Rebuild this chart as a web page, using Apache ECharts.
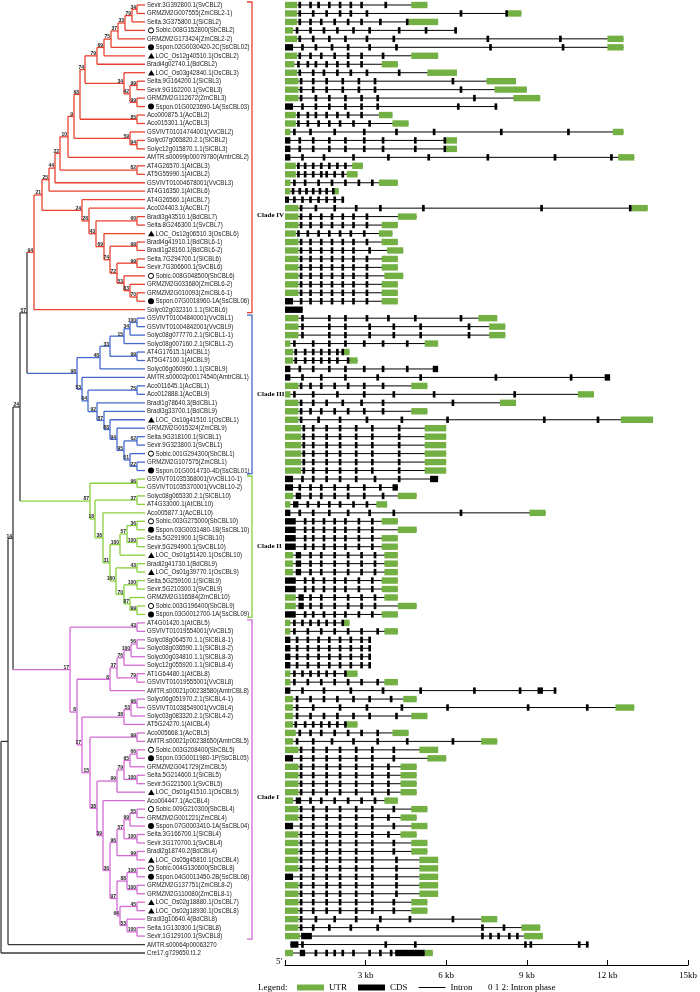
<!DOCTYPE html>
<html><head><meta charset="utf-8">
<script src="https://cdn.jsdelivr.net/npm/echarts@6/dist/echarts.min.js"></script>
<style>html,body{margin:0;padding:0;background:#fff}#c{width:700px;height:992px}</style>
</head><body><div id="c"></div>
<script>
// ---------------- DATA ----------------
const leafNames = [
"Sevir.3G392800.1(SvCBL2)","GRMZM2G007555(ZmCBL2-1)","Seita.3G375800.1(SiCBL2)","Sobic.008G152800(SbCBL2)","GRMZM2G173424(ZmCBL2-2)",
"Sspon.02G0030420-2C(SsCBL02)","LOC_Os12g40510.1(OsCBL2)","Bradi4g02740.1(BdCBL2)","LOC_Os03g42840.1(OsCBL3)","Seita.9G164200.1(SiCBL3)",
"Sevir.9G162200.1(SvCBL3)","GRMZM2G112672(ZmCBL3)","Sspon.01G0023690-1A(SsCBL03)","Aco000875.1(AcCBL2)","Aco015301.1(AcCBL3)",
"GSVIVT01014744001(VvCBL2)","Solyc07g065820.2.1(SlCBL2)","Solyc12g015870.1.1(SlCBL3)","AMTR.s00099p00079780(AmtrCBL2)","AT4G26570.1(AtCBL3)",
"AT5G55990.1(AtCBL2)","GSVIVT01004678001(VvCBL3)","AT4G16350.1(AtCBL6)","AT4G26560.1(AtCBL7)","Aco024403.1(AcCBL7)",
"Bradi3g43510.1(BdCBL7)","Seita.8G246300.1(SvCBL7)","LOC_Os12g06510.3(OsCBL6)","Bradi4g41910.1(BdCBL6-1)","Bradi1g28160.1(BdCBL6-2)",
"Seita.7G294700.1(SiCBL6)","Sevir.7G306600.1(SvCBL6)","Sobic.008G048500(SbCBL6)","GRMZM2G033680(ZmCBL6-2)","GRMZM2G010093(ZmCBL6-1)",
"Sspon.07G0018960-1A(SsCBL06)","Solyc02g032310.1.1(SlCBL6)",
"GSVIVT01004840001(VvCBL1)","GSVIVT01004842001(VvCBL9)","Solyc08g077770.2.1(SlCBL1-1)","Solyc08g007160.2.1(SlCBL1-2)","AT4G17615.1(AtCBL1)",
"AT5G47100.1(AtCBL9)","Solyc06g060960.1.1(SlCBL9)","AMTR.s00002p00174540(AmtrCBL1)","Aco011645.1(AcCBL1)","Aco012888.1(AcCBL9)",
"Bradi1g78640.3(BdCBL1)","Bradi3g33700.1(BdCBL9)","LOC_Os10g41510.1(OsCBL1)","GRMZM2G015324(ZmCBL9)","Seita.9G318100.1(SiCBL1)",
"Sevir.9G323800.1(SvCBL1)","Sobic.001G294300(SbCBL1)","GRMZM2G107575(ZmCBL1)","Sspon.01G0014730-4D(SsCBL01)",
"GSVIVT01035368001(VvCBL10-1)","GSVIVT01035370001(VvCBL10-2)","Solyc08g065330.2.1(SlCBL10)","AT4G33000.1(AtCBL10)","Aco005877.1(AcCBL10)",
"Sobic.003G275000(SbCBL10)","Sspon.03G0031480-1B(SsCBL10)","Seita.5G291900.1(SiCBL10)","Sevir.5G294900.1(SvCBL10)","LOC_Os01g51420.1(OsCBL10)",
"Bradi2g41730.1(BdCBL9)","LOC_Os01g39770.1(OsCBL9)","Seita.5G259100.1(SiCBL9)","Sevir.5G210300.1(SvCBL9)","GRMZM2G116584(ZmCBL10)",
"Sobic.003G196400(SbCBL9)","Sspon.03G0012700-1A(SsCBL09)",
"AT4G01420.1(AtCBL5)","GSVIVT01019554001(VvCBL5)","Solyc08g064570.1.1(SlCBL8-1)","Solyc08g036590.1.1(SlCBL8-2)","Solyc00g034810.1.1(SlCBL8-3)",
"Solyc12g055920.1.1(SlCBL8-4)","AT1G64480.1(AtCBL8)","GSVIVT01019555001(VvCBL8)","AMTR.s00021p00238580(AmtrCBL8)","Solyc06g051970.2.1(SlCBL4-1)",
"GSVIVT01038549001(VvCBL4)","Solyc03g083320.2.1(SlCBL4-2)","AT5G24270.1(AtCBL4)","Aco005668.1(AcCBL5)","AMTR.s00021p00238650(AmtrCBL5)",
"Sobic.003G208400(SbCBL5)","Sspon.03G0011980-1P(SsCBL05)","GRMZM2G041729(ZmCBL5)","Seita.5G214600.1(SiCBL5)","Sevir.5G221500.1(SvCBL5)",
"LOC_Os01g41510.1(OsCBL5)","Aco004447.1(AcCBL4)","Sobic.009G210300(SbCBL4)","GRMZM2G001221(ZmCBL4)","Sspon.07G0003410-1A(SsCBL04)",
"Seita.3G166700.1(SiCBL4)","Sevir.3G170700.1(SvCBL4)","Bradi2g18740.2(BdCBL4)","LOC_Os05g45810.1(OsCBL4)","Sobic.004G130600(SbCBL8)",
"Sspon.04G0013450-2B(SsCBL08)","GRMZM2G137751(ZmCBL8-2)","GRMZM2G110080(ZmCBL8-1)","LOC_Os02g18880.1(OsCBL7)","LOC_Os02g18930.1(OsCBL8)",
"Bradi3g10640.4(BdCBL8)","Seita.1G130300.1(SiCBL8)","Sevir.1G129100.1(SvCBL8)",
"AMTR.s00064p00063270","Cre17.g729650.t1.2"
];
// tree: [nodeDepth, bootstrap, children...]; leaves are 1-based indices into leafNames
const tree =
[1,'',
 [8,'',
  [13,'14',
   [20,'24',
    [27,'57',
     [34,'94',
      [42,'21',
       [49,'25',
        [55,'44',
         [60,'22',
          [68,'10',
           [74,'9',
            [80,'68',
             [85,'74',
              [97,'79',[104,'69',[111,'75',[118,'37',[125,'33',[132,'79',[137,'34',1,2],3],4],5],6],7],8],
              [124,'34',9,[130,'42',[137,'99',10,11],[137,'99',12,13]]]],
             [137,'85',14,15]],
            [130,'59',16,[137,'94',17,18]]],
           19],
          [137,'82',20,21]],
         22],
        23],
       [82,'24',24,[89,'28',25,[96,'43',[137,'60',26,27],[104,'69',28,[110,'74',[137,'99',29,30],[117,'72',[137,'99',31,32],[124,'53',33,[130,'83',34,[137,'70',35,36]]]]]]]]]],
      37],
     [77,'98',
      [100,'48',[110,'33',[124,'15',[130,'34',[137,'100',38,39],40],41],[137,'99',42,43]],44],
      [82,'53',45,[88,'64',[137,'75',46,47],[97,'92',48,[104,'87',49,[110,'88',50,[117,'94',51,[124,'95',[137,'62',52,53],[130,'51',54,[137,'22',55,56]]]]]]]]]]],
    [90,'87',[137,'96',57,58],
     [95,'18',[137,'37',59,60],
      [103,'38',61,
       [110,'31',
        [120,'100',[127,'57',[137,'36',62,63],[137,'100',64,65]],66],
        [116,'100',[137,'43',67,68],[124,'70',[137,'100',69,70],[130,'87',71,[137,'99',72,73]]]]]]]]],
   [70,'17',[137,'43',74,75],
    [77,'8',
     [110,'8',[117,'37',[124,'76',[131,'100',[137,'56',76,77],78],79],[137,'79',80,81]],82],
     [82,'17',
      [124,'38',[131,'53',[137,'96',83,84],85],86],
      [90,'15',[137,'99',87,88],
       [97,'38',
        [117,'99',[124,'79',[130,'95',[137,'66',89,90],91],[137,'100',92,93]],94],
        [103,'39',95,
         [110,'36',
          [117,'96',[124,'57',[130,'99',[137,'55',96,97],98],[137,'100',99,100]],[137,'99',101,102]],
          [117,'97',[127,'88',[137,'100',103,104],[137,'100',105,106]],[120,'64',[137,'45',107,108],[127,'53',109,[137,'100',110,111]]]]]]]]]]]],
  112],
 113];
const cladeNames = ['Clade IV','Clade III','Clade II','Clade I'];
const cladeFirst = [1,38,57,74];
const cladeLast  = [37,56,73,111];
const cladeLabelRow = [25.8,47,64.9,94.6];
const cladeColors = ['#e8412f','#4468cc','#88d03c','#d36ad3'];
// gene structures (kb from 5' end): u = UTR box, c = CDS box
const genes = [
"u0-.45 c.5-.6 c.9-1 c1.2-1.3 c1.6-1.7 c2-2.1 c2.4-2.5 c2.8-2.9 c3.7-3.8 u4.7-5.3",
"u0-.45 c.5-.6 c1-1.1 c1.5-1.6 c2-2.1 c2.4-2.5 c3-3.1 c6.5-6.6 c8.2-8.3 u8.3-8.8",
"u0-.45 c.5-.6 c.9-1 c1.3-1.4 c1.8-1.9 c2.3-2.4 c2.8-2.9 c3.5-3.6 c4.5-4.6 u4.6-5.7",
"u0-.3 c.4-.5 c.9-1 c1.4-1.5 c1.9-2 c2.5-2.6 c3.1-3.2 c4.2-4.3 c5.2-5.3 c6.3-6.4",
"u0-.45 c.5-.6 c1-1.1 c1.6-1.7 c2.2-2.3 c3-3.1 c4-4.1 c7.5-7.6 c10.2-10.3 u12-12.6",
"c0-.3 c.6-.7 c1.1-1.2 c1.7-1.8 c2.3-2.4 c3.1-3.2 c4.1-4.2 c7.6-7.7 c10.3-10.4 u12-12.6",
"u0-.45 c.5-.6 c.9-1 c1.3-1.4 c1.8-1.9 c2.3-2.4 c2.8-2.9 c3.6-3.7 u4.7-5.7",
"u0-.35 c.45-.55 c.8-.9 c1.1-1.2 c1.5-1.6 c1.9-2 c2.3-2.4 c2.8-2.9 u3.6-4.2",
"u0-.45 c.5-.6 c1-1.1 c1.4-1.5 c1.9-2 c2.4-2.5 c3-3.1 c4.2-4.3 u5.3-6.4",
"u0-.5 c.55-.65 c1-1.1 c1.5-1.6 c2.1-2.2 c2.7-2.8 c3.3-3.4 c6.2-6.3 u7.5-8.6",
"u0-.5 c.55-.65 c1-1.1 c1.5-1.6 c2.1-2.2 c2.7-2.8 c3.3-3.4 c6.5-6.6 u7.8-9",
"u0-.5 c.55-.65 c1.1-1.2 c1.6-1.7 c2.2-2.3 c2.8-2.9 c3.4-3.5 c7-7.1 u8.5-9.5",
"c0-.3 c.6-.7 c1.1-1.2 c1.6-1.7 c2.2-2.3 c2.8-2.9 c3.4-3.5 c6.4-6.5 c7.8-7.9",
"u0-.4 c.45-.55 c.8-.9 c1.1-1.2 c1.5-1.6 c1.9-2 c2.3-2.4 c2.8-2.9 u3.5-4",
"u0-.4 c.45-.55 c.8-.9 c1.2-1.3 c1.6-1.7 c2-2.1 c2.5-2.6 c3.1-3.2 u4-4.6",
"u0-.2 c.3-.4 c.9-1 c1.8-1.9 c2.9-3 c4.1-4.2 c5.5-5.6 c8-8.1 c10.5-10.6 u12.2-12.6",
"c0-.2 c.5-.6 c1-1.1 c1.6-1.7 c2.2-2.3 c2.9-3 c3.6-3.7 c4.8-4.9 c5.9-6 u6-6.4",
"c0-.2 c.5-.6 c1-1.1 c1.6-1.7 c2.2-2.3 c2.9-3 c3.6-3.7 c4.8-4.9 c5.9-6 u6-6.4",
"c0-.2 c.6-.7 c1.4-1.5 c2.5-2.6 c3.8-3.9 c5.3-5.4 c7.5-7.6 c10-10.1 c12.1-12.2 u12.4-13",
"u0-.4 c.45-.55 c.7-.8 c1-1.1 c1.3-1.4 c1.6-1.7 c1.9-2 c2.2-2.3 u2.5-2.9",
"u0-.4 c.45-.55 c.7-.8 c1-1.1 c1.3-1.4 c1.5-1.6 c1.8-1.9 c2.1-2.2 u2.3-2.7",
"u0-.2 c.3-.4 c.7-.8 c1.2-1.3 c1.7-1.8 c2.2-2.3 c2.7-2.8 c3.2-3.3 u3.5-4.2",
"u0-.2 c.25-.35 c.5-.6 c.75-.85 c1-1.1 c1.25-1.35 c1.5-1.6 c1.75-1.85 u1.85-2",
"c0-.15 c.3-.4 c.6-.7 c.9-1 c1.2-1.3 c1.5-1.6 c1.8-1.9 c2.1-2.2",
"u0-.5 c.55-.65 c1.1-1.2 c1.8-1.9 c2.6-2.7 c3.5-3.6 c5.1-5.2 c9.5-9.6 c12.8-12.9 u12.9-13.5",
"u0-.5 c.55-.65 c.9-1 c1.3-1.4 c1.7-1.8 c2.1-2.2 c2.5-2.6 c3-3.1 u4.2-4.9",
"u0-.5 c.55-.65 c.9-1 c1.3-1.4 c1.7-1.8 c2.1-2.2 c2.5-2.6 c3-3.1 u3.6-4.2",
"u0-.4 c.45-.55 c.8-.9 c1.2-1.3 c1.6-1.7 c2-2.1 c2.4-2.5 c2.9-3 u3.5-4",
"u0-.5 c.55-.65 c.9-1 c1.3-1.4 c1.7-1.8 c2.1-2.2 c2.5-2.6 c3-3.1 u3.6-4.2",
"u0-.5 c.55-.65 c.9-1 c1.3-1.4 c1.7-1.8 c2.1-2.2 c2.5-2.6 c3.1-3.2 u3.8-4.4",
"u0-.5 c.55-.65 c.9-1 c1.3-1.4 c1.7-1.8 c2.1-2.2 c2.5-2.6 c3-3.1 u3.6-4.2",
"u0-.5 c.55-.65 c.9-1 c1.3-1.4 c1.7-1.8 c2.1-2.2 c2.5-2.6 c3-3.1 u3.6-4.2",
"u0-.5 c.55-.65 c.9-1 c1.3-1.4 c1.7-1.8 c2.1-2.2 c2.5-2.6 c3-3.1 u3.7-4.4",
"u0-.5 c.55-.65 c.9-1 c1.3-1.4 c1.7-1.8 c2.1-2.2 c2.5-2.6 c3-3.1 u3.6-4.2",
"u0-.5 c.55-.65 c.9-1 c1.3-1.4 c1.7-1.8 c2.1-2.2 c2.5-2.6 c3-3.1 u3.6-4.2",
"c0-.3 c.55-.65 c.9-1 c1.3-1.4 c1.7-1.8 c2.1-2.2 c2.5-2.6 c3-3.1 u3.6-4.2",
"c0-.66",
"u0-.5 c.6-.7 c1.6-1.7 c2.2-2.3 c3-3.1 c3.8-3.9 c4.8-4.9 c6.5-6.6 u7.2-7.9",
"u0-.5 c.6-.7 c1.6-1.7 c2.2-2.3 c3.1-3.2 c4-4.1 c5-5.1 c6.8-6.9 u7.6-8.2",
"u0-.5 c.6-.7 c1.6-1.7 c2.2-2.3 c3.1-3.2 c4-4.1 c5-5.1 c6.8-6.9 u7.6-8.2",
"u0-.2 c.3-.4 c1-1.1 c1.6-1.7 c2.2-2.3 c2.9-3 c3.6-3.7 c4.5-4.6 u5.2-5.7",
"u0-.3 c.35-.45 c.7-.8 c1-1.1 c1.3-1.4 c1.6-1.7 c1.9-2 c2.1-2.2 u2.2-2.4",
"u0-.3 c.35-.45 c.7-.8 c1-1.1 c1.3-1.4 c1.6-1.7 c1.9-2 c2.3-2.4 u2.4-2.7",
"c0-.2 c.5-.6 c1-1.1 c1.6-1.7 c2.2-2.3 c2.9-3 c3.6-3.7 c4.5-4.6 c5.5-5.7",
"c0-.2 c.6-.7 c1.3-1.4 c2.2-2.3 c3.4-3.5 c5-5.1 c7.8-7.9 c10.6-10.7 c11.9-12.1",
"u0-.5 c.55-.65 c.9-1 c1.3-1.4 c1.8-1.9 c2.3-2.4 c2.9-3 c3.6-3.7 u4.7-5.3",
"u0-.2 c.3-.4 c1-1.1 c1.9-2 c2.9-3 c4-4.1 c5.5-5.6 c8.5-8.6 u10.9-11.5",
"u0-.5 c.55-.65 c1-1.1 c1.5-1.6 c2.1-2.2 c2.8-2.9 c3.6-3.7 c6.2-6.3 u8-8.6",
"u0-.5 c.55-.65 c.9-1 c1.3-1.4 c1.8-1.9 c2.3-2.4 c2.9-3 c3.6-3.7 u4.7-5.3",
"u0-.5 c.55-.65 c1.2-1.3 c2-2.1 c3-3.1 c4.3-4.4 c6-6.1 c9.6-9.7 c11.6-11.7 u12.5-13.7",
"u0-.6 c.65-.75 c1-1.1 c1.5-1.6 c2-2.1 c2.6-2.7 c3.2-3.3 c4.2-4.3 u5.2-6",
"u0-.6 c.65-.75 c1-1.1 c1.5-1.6 c2-2.1 c2.6-2.7 c3.2-3.3 c4.2-4.3 u5.2-6",
"u0-.6 c.65-.75 c1-1.1 c1.5-1.6 c2-2.1 c2.6-2.7 c3.2-3.3 c4.2-4.3 u5.2-6",
"u0-.6 c.65-.75 c1-1.1 c1.5-1.6 c2-2.1 c2.6-2.7 c3.2-3.3 c4.2-4.3 u5.2-6",
"u0-.6 c.65-.75 c1-1.1 c1.5-1.6 c2-2.1 c2.6-2.7 c3.2-3.3 c4.2-4.3 u5.2-6",
"u0-.6 c.65-.75 c1-1.1 c1.5-1.6 c2-2.1 c2.6-2.7 c3.2-3.3 c4.2-4.3 u5.2-6",
"c0-.3 c.6-.7 c1-1.1 c1.5-1.6 c2-2.1 c2.6-2.7 c3.3-3.4 c4.2-4.3 c5.4-5.7",
"c0-.3 c.5-.6 c.9-1 c1.3-1.4 c1.8-1.9 c2.3-2.4 c2.9-3 c3.5-3.6 c4-4.2",
"u0-.3 c.4-.6 c.9-1 c1.3-1.4 c1.8-1.9 c2.3-2.4 c2.9-3 c3.6-3.7 u4.2-4.9",
"u0-.2 c.3-.5 c.8-.9 c1.2-1.3 c1.6-1.7 c2-2.1 c2.5-2.6 c3-3.1 u3.4-3.8",
"c0-.2 c.5-.6 c1-1.1 c1.6-1.7 c2.3-2.4 c3.1-3.2 c4-4.1 c6.5-6.6 u9.1-9.7",
"c0-.4 c.7-.8 c1-1.1 c1.4-1.5 c1.8-1.9 c2.2-2.3 c2.7-2.8 c3.2-3.3 u3.6-4.2",
"c0-.4 c.7-.8 c1-1.1 c1.4-1.5 c1.8-1.9 c2.2-2.3 c2.7-2.8 c3.2-3.3 u4.2-4.9",
"c0-.4 c.7-.8 c1-1.1 c1.4-1.5 c1.8-1.9 c2.2-2.3 c2.7-2.8 c3.2-3.3 u3.6-4.2",
"c0-.4 c.7-.8 c1-1.1 c1.4-1.5 c1.8-1.9 c2.2-2.3 c2.7-2.8 c3.2-3.3 u3.6-4.2",
"u0-.3 c.4-.6 c.9-1 c1.3-1.4 c1.8-1.9 c2.3-2.4 c2.8-2.9 c3.3-3.4 u3.7-4.2",
"u0-.3 c.4-.6 c.9-1 c1.3-1.4 c1.8-1.9 c2.3-2.4 c2.8-2.9 c3.3-3.4 u3.7-4.2",
"u0-.3 c.4-.6 c.9-1 c1.3-1.4 c1.8-1.9 c2.3-2.4 c2.8-2.9 c3.3-3.4 u3.7-4.2",
"c0-.4 c.7-.8 c1-1.1 c1.4-1.5 c1.8-1.9 c2.2-2.3 c2.7-2.8 c3.2-3.3 u3.6-4.2",
"c0-.4 c.7-.8 c1-1.1 c1.4-1.5 c1.8-1.9 c2.2-2.3 c2.7-2.8 c3.2-3.3 u3.6-4.2",
"u0-.4 c.5-.7 c.9-1 c1.3-1.4 c1.8-1.9 c2.3-2.4 c2.8-2.9 c3.3-3.4 u3.7-4.2",
"u0-.4 c.5-.7 c.9-1 c1.3-1.4 c1.8-1.9 c2.3-2.4 c2.8-2.9 c3.3-3.4 u4.2-4.9",
"c0-.4 c.7-.8 c1-1.1 c1.4-1.5 c1.8-1.9 c2.2-2.3 c2.7-2.8 c3.2-3.3 u3.6-4.2",
"u0-.2 c.3-.4 c.6-.7 c.9-1 c1.2-1.3 c1.5-1.6 c1.8-1.9 c2.1-2.2 u2.2-2.4",
"u0-.2 c.3-.4 c.8-.9 c1.3-1.4 c1.8-1.9 c2.3-2.4 c2.8-2.9 c3.4-3.5 u3.7-4.2",
"c0-.2 c.4-.5 c.8-.9 c1.2-1.3 c1.6-1.7 c2-2.1 c2.4-2.5 c2.8-2.9 c3.1-3.2",
"c0-.2 c.4-.5 c.8-.9 c1.2-1.3 c1.6-1.7 c2-2.1 c2.4-2.5 c2.8-2.9 c3.1-3.2",
"c0-.2 c.4-.5 c.8-.9 c1.2-1.3 c1.6-1.7 c2-2.1 c2.4-2.5 c2.8-2.9 c3.1-3.2",
"c0-.2 c.4-.5 c.8-.9 c1.2-1.3 c1.6-1.7 c2-2.1 c2.4-2.5 c2.8-2.9 c3.1-3.2",
"u0-.2 c.3-.4 c.6-.7 c.9-1 c1.2-1.3 c1.5-1.6 c1.8-1.9 c2.2-2.3 u2.3-2.7",
"u0-.2 c.3-.4 c.8-.9 c1.3-1.4 c1.8-1.9 c2.3-2.4 c2.8-2.9 c3.4-3.5 u3.7-4.2",
"c0-.2 c.6-.7 c1.4-1.5 c2.4-2.5 c3.6-3.7 c5-5.1 c7-7.1 c8.7-8.8 c9.4-9.6 c10-10.1",
"u0-.3 c.4-.5 c.9-1 c1.4-1.5 c1.9-2 c2.5-2.6 c3.1-3.2 c3.9-4 u4.4-4.9",
"u0-.3 c.4-.5 c1-1.1 c2-2.1 c3-3.1 c4.3-4.4 c6-6.1 c9-9.1 c11.2-11.3 u12.3-13",
"u0-.3 c.4-.5 c.9-1 c1.4-1.5 c1.9-2 c2.5-2.6 c3.1-3.2 c4.1-4.2 u4.7-5.3",
"u0-.3 c.35-.45 c.7-.8 c1-1.1 c1.3-1.4 c1.6-1.7 c1.9-2 c2.2-2.3 u2.3-2.7",
"u0-.4 c.5-.6 c.9-1 c1.3-1.4 c1.8-1.9 c2.3-2.4 c2.8-2.9 c3.4-3.5 u4-4.6",
"u0-.3 c.4-.5 c1-1.1 c1.7-1.8 c2.5-2.6 c3.4-3.5 c4.5-4.6 c6.2-6.3 u7.3-7.9",
"u0-.5 c.55-.65 c1-1.1 c1.5-1.6 c2-2.1 c2.6-2.7 c3.2-3.3 c4-4.1 u5-5.7",
"c0-.3 c.55-.65 c1-1.1 c1.5-1.6 c2-2.1 c2.6-2.7 c3.2-3.3 c4-4.1 u5.3-6",
"u0-.5 c.55-.65 c1-1.1 c1.5-1.6 c2-2.1 c2.6-2.7 c3.2-3.3 c3.8-3.9 u4.3-4.9",
"u0-.5 c.55-.65 c1-1.1 c1.5-1.6 c2-2.1 c2.6-2.7 c3.2-3.3 c3.8-3.9 u4.3-4.9",
"u0-.5 c.55-.65 c1-1.1 c1.5-1.6 c2-2.1 c2.6-2.7 c3.2-3.3 c3.8-3.9 u4.3-4.9",
"u0-.5 c.55-.65 c1-1.1 c1.5-1.6 c2-2.1 c2.6-2.7 c3.2-3.3 c3.8-3.9 u4.3-4.9",
"u0-.3 c.4-.6 c.9-1 c1.3-1.4 c1.8-1.9 c2.3-2.4 c2.8-2.9 c3.3-3.4 u3.7-4.2",
"u0-.5 c.55-.65 c1-1.1 c1.5-1.6 c2-2.1 c2.6-2.7 c3.2-3.3 c4-4.1 u4.7-5.3",
"u0-.5 c.55-.65 c1-1.1 c1.5-1.6 c2-2.1 c2.6-2.7 c3.2-3.3 c3.8-3.9 u4.3-4.9",
"c0-.3 c.55-.65 c1-1.1 c1.5-1.6 c2-2.1 c2.6-2.7 c3.2-3.3 c4-4.1 u4.7-5.3",
"u0-.5 c.55-.65 c1-1.1 c1.5-1.6 c2-2.1 c2.6-2.7 c3.2-3.3 c3.8-3.9 u4.3-4.9",
"u0-.5 c.55-.65 c1-1.1 c1.5-1.6 c2-2.1 c2.6-2.7 c3.2-3.3 c4-4.1 u4.7-5.3",
"u0-.5 c.55-.65 c1-1.1 c1.5-1.6 c2-2.1 c2.6-2.7 c3.2-3.3 c4-4.1 u4.7-5.3",
"u0-.5 c.55-.65 c1-1.1 c1.5-1.6 c2-2.1 c2.6-2.7 c3.2-3.3 c4.1-4.2 u5-5.7",
"u0-.5 c.55-.65 c1-1.1 c1.5-1.6 c2-2.1 c2.6-2.7 c3.2-3.3 c4.1-4.2 u5-5.7",
"c0-.3 c.55-.65 c1-1.1 c1.5-1.6 c2-2.1 c2.6-2.7 c3.2-3.3 c4.1-4.2 u5-5.7",
"u0-.5 c.55-.65 c1-1.1 c1.5-1.6 c2-2.1 c2.6-2.7 c3.2-3.3 c4.1-4.2 u5-5.7",
"u0-.5 c.55-.65 c1-1.1 c1.5-1.6 c2-2.1 c2.6-2.7 c3.2-3.3 c4.1-4.2 u5-5.7",
"u0-.5 c.55-.65 c1-1.1 c1.5-1.6 c2-2.1 c2.6-2.7 c3.2-3.3 c4-4.1 u4.7-5.3",
"u0-.5 c.55-.65 c1-1.1 c1.5-1.6 c2-2.1 c2.6-2.7 c3.2-3.3 c4-4.1 u4.7-5.3",
"u0-.5 c.55-.65 c1.1-1.2 c1.8-1.9 c2.6-2.7 c3.5-3.6 c4.6-4.7 c6.2-6.3 u7.3-7.9",
"u0-.5 c.55-.65 c1-1.1 c1.6-1.7 c2.4-2.5 c3.4-3.5 c7.3-7.4 c8.1-8.2 u8.8-9.5",
"u0-.55 c.6-1 c7.3-7.4 c7.6-7.7 c7.9-8 c8.3-8.4 c8.6-8.7 u8.9-9.6",
"c.2-.5 c.6-.7 c3.7-3.8 c4.8-4.9 c8.9-9 c9.1-9.2 c10.9-11 c11.2-11.3",
"u0-.3 c.55-.75 c1.1-1.2 c1.5-1.6 c1.8-1.9 c2.1-2.2 c2.5-2.6 c3.1-3.2 c3.5-3.6 c3.9-4 c4.1-5.2 u5.2-5.5"
];
// axis ticks (kb)
const kbTicks = [3,6,9,12,15];
const kbTickLabels = ['3 kb','6 kb','9 kb','12 kb','15kb'];

// ---------------- BUILD ----------------
const TIP = 145;
function cladeOf(lo,hi){
  for(let k=0;k<4;k++){ if(lo>=cladeFirst[k] && hi<=cladeLast[k]) return k; }
  return -1;
}
const edges=[], nodes=[];
function layout(n){
  if(typeof n==='number') return {x:TIP,y:n,lo:n,hi:n,c:cladeOf(n,n)};
  const [x,bs,...ch]=n;
  const kids=ch.map(layout);
  const y=(kids[0].y+kids[kids.length-1].y)/2;
  const lo=Math.min(...kids.map(k=>k.lo)), hi=Math.max(...kids.map(k=>k.hi));
  const c=cladeOf(lo,hi);
  edges.push([x,kids[0].y,x,kids[kids.length-1].y,c]);
  kids.forEach(k=>edges.push([x,k.y,k.x,k.y,k.c]));
  if(bs!=='') nodes.push([x,y,bs]);
  return {x,y,lo,hi,c};
}
layout(tree);

const utr=[],cds=[],intr=[];
genes.forEach((g,i)=>{
  const row=i+1; let mn=1e9,mx=-1e9;
  g.trim().split(/\s+/).forEach(tok=>{
    const t=tok[0]; const [s,e]=tok.slice(1).split('-').map(Number);
    mn=Math.min(mn,s); mx=Math.max(mx,e);
    (t==='u'?utr:cds).push([s,e,row]);
  });
  intr.push([mn,mx,row]);
});

const colorOf=c=>c<0?'#3a3a3a':cladeColors[c];
const chart=echarts.init(document.getElementById('c'),null,{renderer:'canvas'});
const SANS='"Liberation Sans", Arial, sans-serif';
const SERIF='"Liberation Serif", "Times New Roman", serif';

function boxRender(fill){
  return function(params,api){
    const p1=api.coord([api.value(0),api.value(2)]);
    const p2=api.coord([api.value(1),api.value(2)]);
    const w=Math.max(p2[0]-p1[0],1.6);
    return {type:'rect',shape:{x:p1[0],y:p1[1]-3.2,width:w,height:6.4},style:{fill:fill}};
  };
}

chart.setOption({
  animation:false,
  backgroundColor:'#fff',
  grid:[
    {left:0,top:5,width:145,height:948},
    {left:285,top:5,width:411,height:948}
  ],
  xAxis:[
    {gridIndex:0,type:'value',min:0,max:145,show:false},
    {gridIndex:1,type:'value',min:0,max:15,interval:3,position:'bottom',offset:12,
     axisLine:{lineStyle:{color:'#000',width:1}},
     axisTick:{inside:true,length:5,lineStyle:{color:'#000'}},
     splitLine:{show:false},
     axisLabel:{fontFamily:SERIF,fontSize:9,color:'#000',margin:6,
       formatter:v=>{const k=kbTicks.indexOf(v);return k<0?'':kbTickLabels[k];}}}
  ],
  yAxis:[
    {gridIndex:0,type:'value',min:1,max:113,inverse:true,show:false},
    {gridIndex:1,type:'value',min:1,max:113,inverse:true,show:false}
  ],
  legend:{
    left:297,top:983,padding:0,itemWidth:27,itemHeight:6,itemGap:11,
    textStyle:{fontFamily:SERIF,fontSize:9,color:'#000'},
    data:[
      {name:'UTR',icon:'rect',itemStyle:{color:'#72b043'}},
      {name:'CDS',icon:'rect',itemStyle:{color:'#000'}},
      {name:'Intron',icon:'path://M0,0L0.2,0L0,0.2ZM0,2.4H27V3.6H0ZM26.8,6L27,6L27,5.8Z',itemStyle:{color:'#000'}}
    ],
    selectedMode:false
  },
  graphic:[
    {type:'text',left:258,top:983,style:{text:'Legend:',font:'9px '+SERIF,fill:'#000'}},
    {type:'text',left:488,top:983,style:{text:'0 1 2: Intron phase',font:'9px '+SERIF,fill:'#000'}},
    {type:'text',left:276,top:957,style:{text:"5'",font:'9px '+SERIF,fill:'#000'}}
  ],
  series:[
    {type:'custom',name:'tree',xAxisIndex:0,yAxisIndex:0,data:edges,silent:true,
     renderItem:(p,api)=>{
       const a=api.coord([api.value(0),api.value(1)]), b=api.coord([api.value(2),api.value(3)]);
       return {type:'line',shape:{x1:a[0],y1:a[1],x2:b[0],y2:b[1]},style:{stroke:colorOf(api.value(4)),lineWidth:1.3}};
     }},
    {type:'custom',name:'bootstrap',xAxisIndex:0,yAxisIndex:0,data:nodes,silent:true,
     renderItem:(p,api)=>{
       const a=api.coord([api.value(0),api.value(1)]);
       return {type:'text',style:{text:String(nodes[p.dataIndex][2]),x:a[0]-1,y:a[1]+0.5,align:'right',verticalAlign:'bottom',
         font:'bold 5px '+SANS,fill:'#222'}};
     }},
    {type:'custom',name:'leaves',xAxisIndex:0,yAxisIndex:0,silent:true,
     data:leafNames.map((n,i)=>[TIP,i+1]),
     renderItem:(p,api)=>{
       const a=api.coord([api.value(0),api.value(1)]);
       const name=leafNames[p.dataIndex];
       const kids=[]; let tx=a[0]+2;
       if(name.startsWith('LOC_')){
         kids.push({type:'polygon',shape:{points:[[a[0]+3,a[1]+2.8],[a[0]+6.3,a[1]-2.8],[a[0]+9.6,a[1]+2.8]]},style:{fill:'#000'}});
         tx=a[0]+10.5;
       } else if(name.startsWith('Sspon')){
         kids.push({type:'circle',shape:{cx:a[0]+6,cy:a[1],r:3},style:{fill:'#000'}});
         tx=a[0]+10.5;
       } else if(name.startsWith('Sobic')){
         kids.push({type:'circle',shape:{cx:a[0]+6,cy:a[1],r:2.6},style:{fill:'#fff',stroke:'#000',lineWidth:1}});
         tx=a[0]+10.5;
       }
       kids.push({type:'text',x:tx,y:a[1],scaleX:0.85,scaleY:1,
         style:{text:name,x:0,y:0,align:'left',verticalAlign:'middle',font:'7.2px '+SANS,fill:'#222'}});
       return {type:'group',children:kids};
     }},
    {type:'custom',name:'clades',xAxisIndex:0,yAxisIndex:0,silent:true,
     data:cladeNames.map((n,k)=>[cladeFirst[k],cladeLast[k],k,cladeLabelRow[k]]),
     renderItem:(p,api)=>{
       const k=api.value(2);
       const t=api.coord([252,api.value(0)]), b=api.coord([252,api.value(1)]), m=api.coord([252,api.value(3)]);
       const y1=t[1]-3, y2=b[1]+3, x=t[0];
       return {type:'group',children:[
         {type:'polyline',shape:{points:[[x-5,y1],[x,y1],[x,y2],[x-5,y2]]},style:{stroke:cladeColors[k],lineWidth:1.3,fill:null}},
         {type:'text',style:{text:cladeNames[k],x:x+5,y:m[1],align:'left',verticalAlign:'middle',font:'bold 7px '+SERIF,fill:'#000'}}
       ]};
     }},
    {type:'custom',name:'Intron',xAxisIndex:1,yAxisIndex:1,data:intr,silent:true,
     itemStyle:{color:'#000'},
     renderItem:(p,api)=>{
       const a=api.coord([api.value(0),api.value(2)]), b=api.coord([api.value(1),api.value(2)]);
       return {type:'line',shape:{x1:a[0],y1:a[1],x2:b[0],y2:b[1]},style:{stroke:'#000',lineWidth:1}};
     }},
    {type:'custom',name:'UTR',xAxisIndex:1,yAxisIndex:1,data:utr,silent:true,itemStyle:{color:'#72b043'},renderItem:boxRender('#72b043')},
    {type:'custom',name:'CDS',xAxisIndex:1,yAxisIndex:1,data:cds,silent:true,itemStyle:{color:'#000'},renderItem:boxRender('#000')}
  ]
});
</script></body></html>
